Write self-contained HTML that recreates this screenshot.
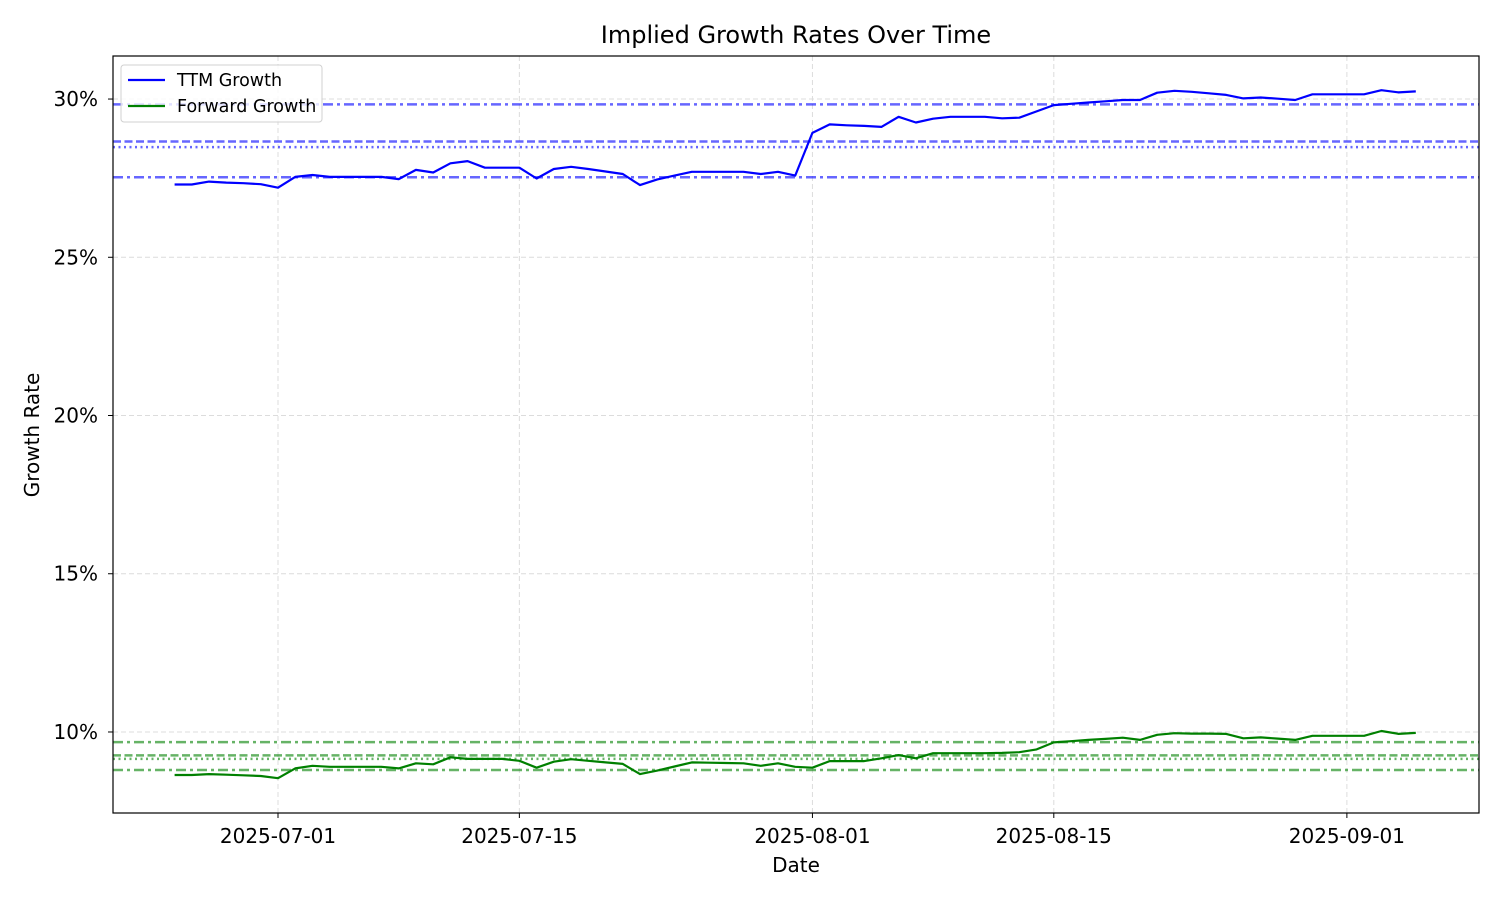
<!DOCTYPE html>
<html><head><meta charset="utf-8"><style>
body{margin:0;background:#fff;}
svg{display:block;font-family:"DejaVu Sans","Liberation Sans",sans-serif;}
</style></head><body>
<svg id="chart" width="1500" height="900">
<rect x="0" y="0" width="1500" height="900" fill="#fff"/>
</svg>
<script>
const startDate = "2025-06-25";
const ttmGrowth = [27.30,27.30,27.39,27.36,27.34,27.31,27.20,27.54,27.60,27.54,27.54,27.54,27.54,27.47,27.76,27.68,27.97,28.04,27.83,27.83,27.83,27.49,27.79,27.86,27.79,27.71,27.63,27.28,27.46,27.58,27.70,27.70,27.70,27.70,27.63,27.70,27.58,28.93,29.20,29.17,29.15,29.12,29.44,29.26,29.38,29.44,29.44,29.44,29.39,29.41,29.61,29.81,29.85,29.89,29.93,29.97,29.97,30.20,30.26,30.23,30.18,30.13,30.02,30.05,30.01,29.97,30.15,30.15,30.15,30.15,30.28,30.21,30.24];
const fwdGrowth = [8.64,8.64,8.67,8.65,8.63,8.61,8.54,8.85,8.93,8.90,8.90,8.90,8.90,8.85,9.01,8.98,9.20,9.15,9.15,9.15,9.09,8.87,9.06,9.14,9.09,9.04,8.99,8.67,8.78,8.91,9.04,9.03,9.02,9.01,8.93,9.01,8.90,8.87,9.08,9.08,9.08,9.17,9.27,9.17,9.33,9.33,9.33,9.33,9.34,9.36,9.45,9.67,9.71,9.75,9.78,9.82,9.75,9.91,9.96,9.95,9.95,9.94,9.80,9.83,9.79,9.75,9.88,9.88,9.88,9.88,10.03,9.94,9.97];
const ttmRefLines = [29.83,28.66,28.48,27.53];
const fwdRefLines = [9.68,9.26,9.15,8.80];
const refStyles = ["dashdot","dashed","dotted","dashdot"];
const yTicks = [10,15,20,25,30];
const xTickLabels = ["2025-07-01","2025-07-15","2025-08-01","2025-08-15","2025-09-01"];

const L=113,R=1479,T=56,B=813;
const y0=7.44,y1=31.36;
const DAY=86400000;
const anchor=Date.parse("2025-07-01T00:00:00Z");
const PXDAY=17.24, ANCHORX=278;
const sd=Date.parse(startDate+"T00:00:00Z");
function xs(t){return ANCHORX+(t-anchor)/DAY*PXDAY;}
function ys(v){return B-(v-y0)/(y1-y0)*(B-T);}
const svg=document.getElementById('chart');
const NS="http://www.w3.org/2000/svg";
function mk(tag,attrs,parent){const e=document.createElementNS(NS,tag);for(const k in attrs)e.setAttribute(k,attrs[k]);(parent||svg).appendChild(e);return e;}
const dashes={dashdot:"10,4,3,4",dashed:"8,3.5",dotted:"2,3.5"};

yTicks.forEach(v=>{
 const g=mk('line',{x1:L,x2:R,y1:ys(v),y2:ys(v),stroke:'#dcdcdc','stroke-width':1,'stroke-dasharray':'5,3'});
 
 
 const tk=mk('line',{x1:L-5,x2:L,y1:ys(v),y2:ys(v),stroke:'#000','stroke-width':1});
 
 
 const t=mk('text',{x:L-15,y:ys(v)+7,'text-anchor':'end','font-size':'20',fill:'#000'});
 t.textContent=v+'%';
 
 
});
xTickLabels.forEach(s=>{
 const x=xs(Date.parse(s+"T00:00:00Z"));
 const g=mk('line',{x1:x,x2:x,y1:T,y2:B,stroke:'#dcdcdc','stroke-width':1,'stroke-dasharray':'5,3'});
 
 
 const tk=mk('line',{x1:x,x2:x,y1:B,y2:B+5,stroke:'#000','stroke-width':1});
 
 
 const t=mk('text',{x:x,y:B+30,'text-anchor':'middle','font-size':'20',fill:'#000'});
 t.textContent=s;
 
 
});
function refs(vals,color,name){
 vals.forEach((v,i)=>{
  const l=mk('line',{x1:L,x2:R,y1:ys(v),y2:ys(v),stroke:color,'stroke-opacity':0.6,'stroke-width':2.5,'stroke-dasharray':dashes[refStyles[i]]});
  
  
 });
}
refs(ttmRefLines,'#0000ff','ttm-reference-line');
refs(fwdRefLines,'#008000','forward-reference-line');
function series(vals,color,name){
 const pts=vals.map((v,i)=>xs(sd+i*DAY).toFixed(1)+','+ys(v).toFixed(1)).join(' ');
 const p=mk('polyline',{points:pts,fill:'none',stroke:color,'stroke-width':2.2,'stroke-linejoin':'round'});
 
 
}
series(ttmGrowth,'#0000ff','ttm-growth-line');
series(fwdGrowth,'#008000','forward-growth-line');
const fr=mk('rect',{x:L,y:T,width:R-L,height:B-T,fill:'none',stroke:'#000','stroke-width':1.2});


const ti=mk('text',{x:(L+R)/2,y:43,'text-anchor':'middle','font-size':'24',fill:'#000'});
ti.textContent='Implied Growth Rates Over Time';


const xl=mk('text',{x:(L+R)/2,y:872,'text-anchor':'middle','font-size':'20',fill:'#000'});
xl.textContent='Date';


const yl=mk('text',{x:0,y:0,'text-anchor':'middle','font-size':'20',fill:'#000',transform:'translate(39,435) rotate(-90)'});
yl.textContent='Growth Rate';


const lg=mk('g',{});


mk('rect',{x:121,y:65,width:201,height:57,rx:3,fill:'#fff','fill-opacity':0.8,stroke:'#d0d0d0','stroke-width':1},lg);
const ents=[['TTM Growth','#0000ff',80],['Forward Growth','#008000',106]];
ents.forEach(e=>{
 const g=mk('g',{},lg);
 
 
 mk('line',{x1:128,x2:165,y1:e[2],y2:e[2],stroke:e[1],'stroke-width':2.2},g);
 const t=mk('text',{x:177,y:e[2]+6,'font-size':'17.5',fill:'#000'},g);
 t.textContent=e[0];
});
</script>
</body></html>
